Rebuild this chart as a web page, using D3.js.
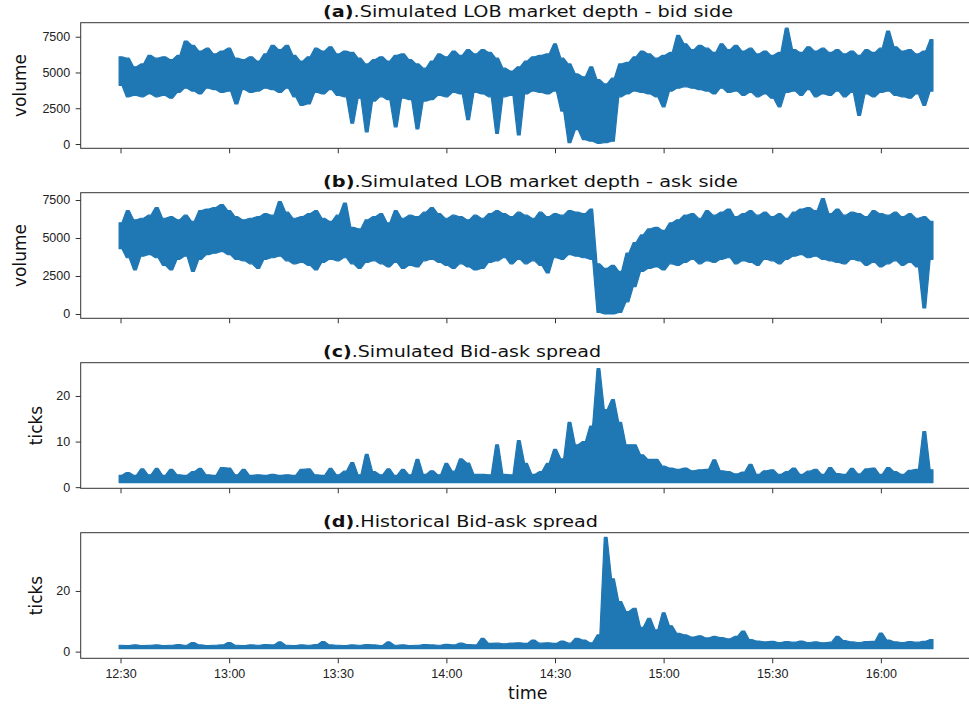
<!DOCTYPE html>
<html>
<head>
<meta charset="utf-8">
<script src="https://cdn.jsdelivr.net/npm/d3@7"></script>
<style>
  body { margin: 0; background: #fff; }
  svg { display: block; font-family: "DejaVu Sans", sans-serif; }
  .tick text { font-size: 12.5px; fill: #222; }
  .tick line { stroke: #333; }
</style>
</head>
<body>
<div id="chart"></div>
<script>
// two-minute bins from 12:30, high / low of each bin
const startTime = '12:30'
const binMinutes = 2

const bidHigh = [
  6100, 6000, 5400, 5600, 6200, 6000, 6100, 5900, 6200, 7200,
  6900, 6500, 6700, 6300, 6500, 6700, 6000, 5900, 6100, 5800,
  6300, 6900, 6600, 6900, 6200, 5800, 6100, 6700, 6500, 6800,
  6300, 6500, 6400, 6000, 5600, 5900, 6100, 5800, 6200, 6300,
  5900, 5600, 5300, 5800, 6300, 6100, 6500, 6200, 6600, 6300,
  6600, 6400, 6000, 5300, 5100, 5400, 5800, 6100, 6200, 6300,
  7000, 6000, 5600, 4900, 4700, 5400, 4500, 4200, 4600, 5600,
  5700, 6100, 6500, 6300, 6000, 6200, 6400, 7600, 7000, 6600,
  6900, 6700, 6400, 7000, 6600, 6900, 6500, 6700, 6300, 6500,
  6200, 6400, 8100, 6600, 6400, 6800, 6500, 6700, 6400, 6600,
  6300, 6500, 6200, 6600, 6400, 6700, 7900, 6800, 6500, 6600,
  6300, 6500, 7300
]
const bidLow = [
  4100, 3300, 3400, 3300, 3500, 3300, 3400, 3200, 3600, 3900,
  3700, 3500, 3900, 3800, 3600, 3700, 2800, 3800, 3600, 3700,
  3900, 3800, 3600, 3900, 3300, 2700, 2800, 3600, 3500, 3800,
  3400, 3300, 1450, 3200, 850, 3000, 3300, 3100, 1200, 3200,
  3100, 1050, 3000, 3100, 3400, 3300, 3600, 3500, 1700, 3600,
  3500, 3300, 750, 3300, 3400, 630, 3500, 3700, 3600, 3500,
  3700, 2300, 100, 1000, 300, 200, 50, 100, 200, 3300,
  3500, 3700, 3600, 3500, 3300, 2600, 3700, 3900, 4000, 3900,
  3800, 3700, 3500, 3900, 3600, 3700, 3400, 3600, 3300, 3500,
  3200, 2600, 3600, 3700, 3400, 3800, 3300, 3500, 3400, 3700,
  3300, 3600, 2000, 3500, 3300, 3600, 3700, 3400, 3300, 3200,
  3500, 2700, 3700
]

const askHigh = [
  6000, 6800, 6200, 6300, 6500, 7000, 6300, 6400, 6200, 6500,
  6100, 6800, 6900, 7000, 7200, 6800, 6400, 6200, 6300, 6400,
  6600, 6500, 7400, 6700, 6300, 6400, 6600, 6800, 6300, 6100,
  6500, 7300, 5700, 5600, 6200, 6400, 6600, 6000, 6800, 6300,
  6500, 6400, 6700, 7000, 6600, 6300, 6500, 6400, 6200, 6500,
  6300, 6600, 6800, 6600, 6400, 6700, 6500, 6300, 6700, 6400,
  6600, 6500, 6800, 6700, 6600, 6900, 3300, 3000, 3200, 2800,
  4000, 4700, 5200, 5600, 5700, 5500, 6000, 6200, 6500, 6600,
  6300, 6800, 6500, 6700, 6900, 6400, 6600, 6800, 6500, 6700,
  6400, 6600, 6300, 6700, 6900, 7000, 6800, 7600, 6600, 6900,
  6500, 6700, 6600, 6400, 6800, 6600, 6500, 6700, 6400, 6600,
  6300, 6400, 6100
]
const askLow = [
  4300, 3700, 2900, 3800, 3900, 3700, 3200, 2900, 3600, 3800,
  2800, 3600, 3900, 4000, 4100, 3900, 3600, 3500, 3300, 3000,
  3600, 3700, 3800, 3500, 3300, 3400, 3200, 2900, 3400, 3600,
  3500, 3700, 3300, 3000, 3400, 3500, 3300, 3100, 3400, 3000,
  3200, 3100, 3500, 3600, 3400, 3200, 3000, 3300, 3100, 2900,
  3000, 3400, 3500, 3700, 3300, 3600, 3300, 3500, 3200, 2700,
  3700, 3600, 3900, 3800, 3700, 3600, 100, 0, 0, 100,
  800, 1800, 2800, 3000, 3100, 2900, 3300, 3200, 3400, 3600,
  3300, 3500, 3400, 3600, 3700, 3300, 3500, 3400, 3200, 3600,
  3500, 3300, 3600, 3800, 3900, 3700, 3800, 3600, 3500, 3400,
  3300, 3600, 3500, 3200, 3400, 3100, 3300, 3500, 3200, 3400,
  3100, 400, 3600
]

// spread never goes under one tick
const spreadFloor = 1
const simSpreadHigh = [
  2.6, 3.2, 2.6, 4.0, 2.7, 4.1, 2.6, 3.9, 2.7, 2.6,
  3.4, 4.1, 2.7, 2.6, 4.3, 4.2, 2.7, 3.9, 2.6, 2.7,
  2.6, 2.8, 2.6, 2.7, 2.6, 3.9, 4.0, 2.7, 2.6, 4.1,
  2.7, 3.5, 5.4, 2.7, 7.2, 3.4, 2.7, 4.0, 2.6, 3.9,
  2.7, 6.1, 2.8, 3.6, 2.7, 5.2, 3.5, 6.2, 5.3, 2.8,
  2.8, 2.7, 9.3, 2.8, 2.7, 10.2, 5.2, 2.8, 3.4, 5.2,
  8.3, 6.2, 14.2, 9.3, 10.0, 13.4, 26.0, 17.0, 19.2, 14.2,
  9.3, 9.3, 7.1, 6.1, 6.1, 4.6, 4.2, 3.9, 4.2, 3.6,
  3.8, 3.9, 6.0, 3.6, 3.4, 2.9, 3.3, 5.0, 2.8, 3.6,
  3.8, 2.8, 3.4, 4.2, 2.8, 3.5, 3.9, 2.8, 4.3, 3.0,
  2.8, 4.1, 2.9, 4.0, 4.2, 2.8, 4.3, 3.4, 2.8, 3.7,
  3.9, 12.2, 3.8
]
const histSpreadHigh = [
  2.1, 2.0, 2.2, 2.0, 2.1, 2.2, 2.0, 2.1, 2.3, 2.1,
  3.0, 2.2, 2.0, 2.1, 2.2, 3.0, 2.1, 2.0, 2.2, 2.1,
  2.3, 2.2, 3.2, 2.1, 2.0, 2.2, 2.1, 2.3, 3.3, 2.2,
  2.1, 2.0, 2.2, 2.1, 2.3, 2.2, 2.0, 3.2, 2.1, 2.2,
  2.0, 2.1, 2.3, 2.2, 2.1, 2.4, 2.2, 2.8, 2.3, 2.2,
  4.4, 2.7, 2.8, 2.6, 2.8, 2.9, 2.7, 3.8, 2.8, 2.9,
  2.7, 3.5, 2.8, 4.4, 3.8, 2.9, 5.5, 37.7, 24.0, 16.5,
  13.2, 14.3, 8.0, 11.0, 7.2, 12.8, 8.5, 6.0, 5.5, 4.8,
  5.2, 4.5, 5.0, 4.6, 4.2, 5.0, 6.8, 4.0, 3.5, 3.2,
  3.4, 3.0, 3.3, 3.1, 3.5, 3.0, 3.2, 2.9, 3.1, 5.0,
  3.6, 3.2, 3.0, 3.3, 3.4, 6.1, 3.8, 3.2, 3.0, 3.3,
  3.1, 3.4, 4.0
]

const timeTickLabels = ['12:30', '13:00', '13:30', '14:00', '14:30', '15:00', '15:30', '16:00']
const volumeTicks = [0, 2500, 5000, 7500]

var width = 969, height = 709
var left = 80.7, right = 975
var panelTops = [22.7, 192.7, 362.7, 532.7], panelH = 125.6
var blue = '#1f77b4'

var parseHM = d3.timeParse('%H:%M')
var t0 = parseHM(startTime)
var timeOf = function(i) { return d3.timeMinute.offset(t0, i * binMinutes) }

var x = d3.scaleTime()
    .domain([parseHM('12:19'), parseHM('16:26')])
    .range([left, right])

// Curve that holds every bin's value over a short flat top and ramps to
// the next bin, so single-bin spikes stay narrow as in a dense line plot
function plateauCurve(half) {
  return function(context) {
    var line, pt, first, dir
    function emit(px, py, start) {
      var a = px - dir * half, b = px + dir * half
      if (start) { line ? context.lineTo(a, py) : context.moveTo(a, py) }
      else context.lineTo(a, py)
      context.lineTo(b, py)
    }
    return {
      areaStart: function() { line = 0 },
      areaEnd: function() { line = NaN },
      lineStart: function() { pt = 0 },
      lineEnd: function() {
        if (pt === 1) { dir = 1; emit(first[0], first[1], true) }
        if (line || (line !== 0 && pt === 1)) context.closePath()
        line = 1 - line
      },
      point: function(px, py) {
        px = +px; py = +py
        if (pt === 0) { first = [px, py]; pt = 1; return }
        if (pt === 1) {
          dir = px > first[0] ? 1 : -1
          emit(first[0], first[1], true)
          pt = 2
        }
        emit(px, py, false)
      }
    }
  }
}

var panels = [
  { tag: '(a)', title: '.Simulated LOB market depth - bid side', titleW: 410,
    ylabel: 'volume', ylabelX: 26, hi: bidHigh, lo: bidLow,
    domain: [-300, 8480], ticks: volumeTicks },
  { tag: '(b)', title: '.Simulated LOB market depth - ask side', titleW: 415,
    ylabel: 'volume', ylabelX: 26, hi: askHigh, lo: askLow,
    domain: [-283, 7980], ticks: volumeTicks },
  { tag: '(c)', title: '.Simulated Bid-ask spread', titleW: 278,
    ylabel: 'ticks', ylabelX: 42, hi: simSpreadHigh, lo: null,
    domain: [-0.25, 27.3], ticks: [0, 10, 20] },
  { tag: '(d)', title: '.Historical Bid-ask spread', titleW: 275,
    ylabel: 'ticks', ylabelX: 42, hi: histSpreadHigh, lo: null,
    domain: [-2.2, 39.2], ticks: [0, 20] }
]

var svg = d3.select('#chart').append('svg')
    .attr('width', width)
    .attr('height', height)

panels.forEach(function(p, k) {
  var top = panelTops[k]
  var y = d3.scaleLinear().domain(p.domain).range([top + panelH, top])

  var rows = p.hi.map(function(h, i) {
    return { t: timeOf(i), hi: h, lo: p.lo ? p.lo[i] : spreadFloor }
  })

  var area = d3.area()
      .x(function(d) { return x(d.t) })
      .y0(function(d) { return y(d.lo) })
      .y1(function(d) { return y(d.hi) })
      .curve(plateauCurve(1.4))

  svg.append('path')
      .datum(rows)
      .attr('d', area)
      .attr('fill', blue)
      .attr('stroke', blue)
      .attr('stroke-width', 1.2)
      .attr('stroke-linejoin', 'round')

  // frame
  svg.append('rect')
      .attr('x', left).attr('y', top)
      .attr('width', right - left).attr('height', panelH)
      .attr('fill', 'none')
      .attr('stroke', '#333')
      .attr('stroke-width', 1)

  var xAxis = d3.axisBottom(x)
      .tickValues(timeTickLabels.map(parseHM))
      .tickSize(5)
      .tickPadding(5.5)
      .tickFormat(k === 3 ? d3.timeFormat('%H:%M') : '')
  svg.append('g')
      .attr('transform', 'translate(0,' + (top + panelH) + ')')
      .call(xAxis)
      .call(function(g) { g.select('.domain').remove() })

  var yAxis = d3.axisLeft(y)
      .tickValues(p.ticks)
      .tickSize(5)
      .tickPadding(5.5)
      .tickFormat(d3.format('d'))
  svg.append('g')
      .attr('transform', 'translate(' + left + ',0)')
      .call(yAxis)
      .call(function(g) { g.select('.domain').remove() })

  // title, bold tag then plain text, starts at the same x for every panel
  var title = svg.append('text')
      .attr('x', 323)
      .attr('y', top - 6)
      .attr('font-size', 15.5)
      .attr('fill', '#111')
      .attr('textLength', p.titleW)
      .attr('lengthAdjust', 'spacingAndGlyphs')
  title.append('tspan').attr('font-weight', 'bold').text(p.tag)
  title.append('tspan').text(p.title)

  svg.append('text')
      .attr('transform', 'translate(' + p.ylabelX + ',' + (top + panelH / 2) + ') rotate(-90)')
      .attr('text-anchor', 'middle')
      .attr('font-size', 17)
      .attr('fill', '#111')
      .text(p.ylabel)
})

svg.append('text')
    .attr('x', (left + right) / 2)
    .attr('y', 699)
    .attr('text-anchor', 'middle')
    .attr('font-size', 17.5)
    .attr('fill', '#111')
    .text('time')
</script>
</body>
</html>
